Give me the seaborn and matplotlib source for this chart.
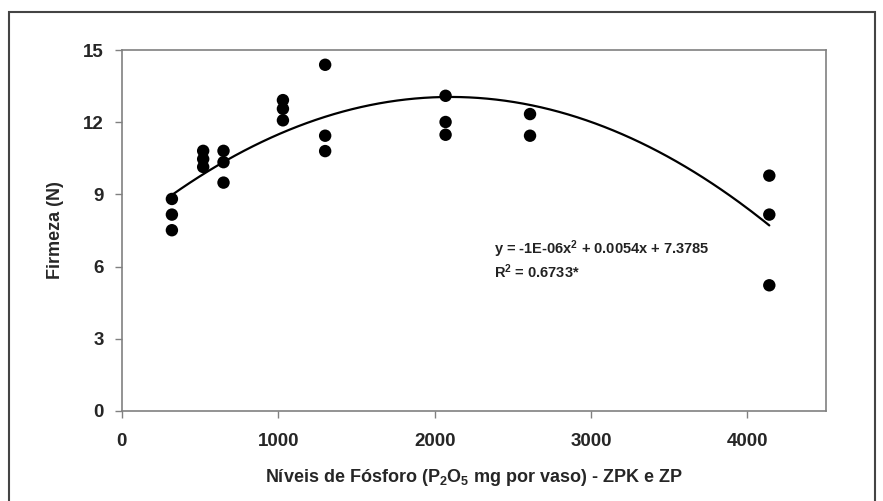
import numpy as np
import pandas as pd
import seaborn as sns
import matplotlib.pyplot as plt
from matplotlib.patches import Rectangle

# niveis de fosforo (mg por vaso) e firmeza (N)
niveis = [320, 320, 320, 520, 520, 520, 650, 650, 650, 1030, 1030, 1030,
          1300, 1300, 1300, 2070, 2070, 2070, 2610, 2610, 4140, 4140, 4140]
firmeza = [8.81, 8.16, 7.51, 10.81, 10.47, 10.14, 10.81, 10.34, 9.49, 12.92, 12.56, 12.08,
           14.39, 11.44, 10.80, 13.10, 12.01, 11.48, 12.34, 11.44, 9.78, 8.16, 5.22]

# coeficientes da regressao quadratica (a sem arredondar)
coef_a = -1.285e-06
coef_b = 0.0054
coef_c = 7.3785

x_ticks = [0, 1000, 2000, 3000, 4000]
y_ticks = [0, 3, 6, 9, 12, 15]

df = pd.DataFrame({'niveis': niveis, 'firmeza': firmeza})
xc = np.linspace(min(niveis), max(niveis), 200)
curva = pd.DataFrame({'x': xc, 'y': coef_a * xc ** 2 + coef_b * xc + coef_c})

sns.set_theme(style="white")
plt.rcParams['font.family'] = ['Liberation Sans', 'DejaVu Sans']
plt.rcParams['mathtext.default'] = 'regular'

fig = plt.figure(figsize=(8.83, 5.01), dpi=100)
ax = fig.add_axes([0.138, 0.180, 0.797, 0.720])

sns.lineplot(x='x', y='y', data=curva, ax=ax, color='black', lw=1.6)
sns.scatterplot(x='niveis', y='firmeza', data=df, ax=ax, s=80,
                color='black', edgecolor='none', zorder=3)

ax.set_xlim(0, 4500)
ax.set_ylim(0, 15)
ax.set_xticks(x_ticks)
ax.set_yticks(y_ticks)
ax.tick_params(axis='both', labelsize=13.5, length=5, width=1, color='#808080',
               direction='out', left=True, bottom=True)
ax.tick_params(axis='x', pad=11)
ax.tick_params(axis='y', pad=8)
for lab in ax.get_xticklabels() + ax.get_yticklabels():
    lab.set_fontweight('bold')
for sp in ax.spines.values():
    sp.set_color('#808080')
    sp.set_linewidth(1.2)

ax.set_xlabel('Níveis de Fósforo (P$_2$O$_5$ mg por vaso) - ZPK e ZP',
              fontsize=13, fontweight='bold', labelpad=12)
ax.set_ylabel('Firmeza (N)', fontsize=13, fontweight='bold', labelpad=14)

ax.text(2380, 6.7, 'y = -1E-06x$^2$ + 0.0054x + 7.3785', fontsize=10.5,
        fontweight='bold', va='center', color='#222222')
ax.text(2380, 5.8, 'R$^2$ = 0.6733*', fontsize=10.5,
        fontweight='bold', va='center', color='#222222')

fig.patches.append(Rectangle((9 / 883, -0.05), 866 / 883, 1 - 12 / 501 + 0.05,
                             transform=fig.transFigure, fill=False,
                             edgecolor='#444444', lw=1.5))

plt.savefig('out.png', dpi=100)
